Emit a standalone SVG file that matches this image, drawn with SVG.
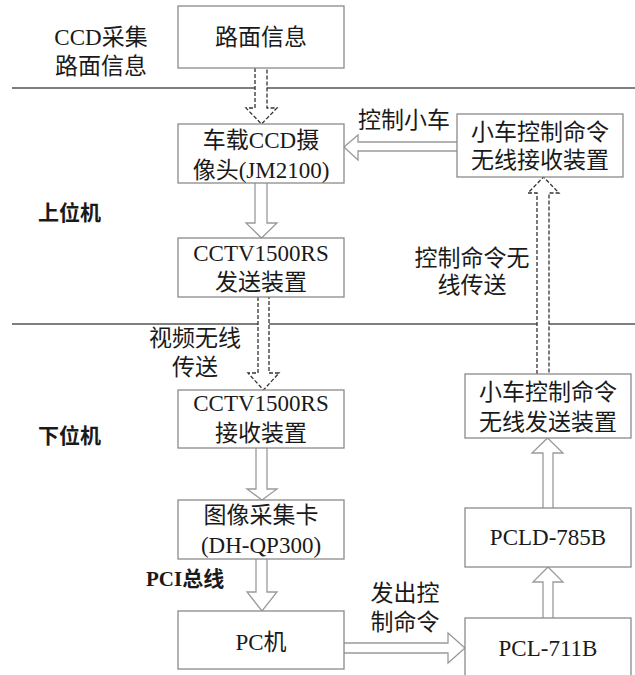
<svg xmlns="http://www.w3.org/2000/svg" width="635" height="675" viewBox="0 0 635 675">
<style>
.bx{fill:#fff;stroke:#8a8a8a;stroke-width:1.3}
.t{font-family:"Liberation Serif","Noto Sans CJK SC",serif;font-size:23px;fill:#1a1a1a;text-anchor:middle}
.b{font-family:"Liberation Serif","Noto Sans CJK SC",serif;font-size:21px;font-weight:bold;fill:#1a1a1a}
.ar{fill:#fff;stroke:#9a9a9a;stroke-width:1.3;stroke-linejoin:miter}
.da{fill:#fff;stroke:#333;stroke-width:1.3;stroke-dasharray:4 2}
.ln{stroke:#555;stroke-width:1.3}
</style>
<g id="lines">
<line class="ln" x1="12" y1="88" x2="635" y2="88"/>
<line class="ln" x1="12" y1="324" x2="635" y2="324"/>
</g>
<g id="connectors">
<path class="da" d="M255 68 L255 108 L246 108 L261.5 124 L277 108 L267 108 L267 68"/>
<path class="ar" d="M255 183 L255 223 L246 223 L261.5 238 L277 223 L267 223 L267 183"/>
<path class="da" d="M258 297 L258 373 L248 373 L263.5 390 L279 373 L269 373 L269 297"/>
<path class="ar" d="M256 448 L256 489 L247 489 L262 500 L277 489 L267 489 L267 448"/>
<path class="ar" d="M256 559 L256 592 L247 592 L262 611 L277 592 L267 592 L267 559"/>
<path class="ar" d="M344 643 L448 643 L448 633 L465 648 L448 663 L448 653 L344 653"/>
<path class="ar" d="M543 618 L543 582 L533 582 L548 567 L563 582 L553 582 L553 618"/>
<path class="ar" d="M543 508 L543 453 L532 453 L547.5 438 L563 453 L553 453 L553 508"/>
<path class="da" d="M537 374 L537 193 L528 193 L543.5 177 L559 193 L549 193 L549 374"/>
<path class="ar" d="M457 142 L358 142 L358 135 L344 147 L358 160 L358 151 L457 151"/>
</g>
<g id="n1"><rect class="bx" x="178" y="6" width="166" height="62"/><text class="t" x="261" y="45">路面信息</text></g>
<g id="n2"><rect class="bx" x="178" y="124" width="166" height="59"/><text class="t" x="261" y="148">车载CCD摄</text><text class="t" x="261" y="178">像头(JM2100)</text></g>
<g id="n3"><rect class="bx" x="178" y="238" width="166" height="59"/><text class="t" x="261" y="261">CCTV1500RS</text><text class="t" x="261" y="290">发送装置</text></g>
<g id="n4"><rect class="bx" x="178" y="390" width="166" height="58"/><text class="t" x="261" y="411">CCTV1500RS</text><text class="t" x="261" y="441">接收装置</text></g>
<g id="n5"><rect class="bx" x="178" y="500" width="166" height="59"/><text class="t" x="261" y="523">图像采集卡</text><text class="t" x="261" y="553">(DH-QP300)</text></g>
<g id="n6"><rect class="bx" x="178" y="611" width="166" height="58"/><text class="t" x="261" y="650">PC机</text></g>
<g id="n7"><rect class="bx" x="465" y="618" width="166" height="60"/><text class="t" x="548" y="656">PCL-711B</text></g>
<g id="n8"><rect class="bx" x="465" y="508" width="166" height="59"/><text class="t" x="548" y="545">PCLD-785B</text></g>
<g id="n9"><rect class="bx" x="465" y="374" width="166" height="64"/><text class="t" x="548" y="400">小车控制命令</text><text class="t" x="548" y="430">无线发送装置</text></g>
<g id="n10"><rect class="bx" x="457" y="114" width="166" height="63"/><text class="t" x="540" y="140">小车控制命令</text><text class="t" x="540" y="168">无线接收装置</text></g>
<g id="labels">
<text class="t" x="101" y="45">CCD采集</text>
<text class="t" x="101" y="74">路面信息</text>
<text class="b" x="38" y="220">上位机</text>
<text class="b" x="38" y="443">下位机</text>
<text class="b" x="146" y="586">PCI总线</text>
<text class="t" x="404" y="128">控制小车</text>
<text class="t" x="472" y="266">控制命令无</text>
<text class="t" x="472" y="293">线传送</text>
<text class="t" x="195" y="346">视频无线</text>
<text class="t" x="195" y="375">传送</text>
<text class="t" x="405" y="601">发出控</text>
<text class="t" x="405" y="630">制命令</text>
</g>
</svg>
